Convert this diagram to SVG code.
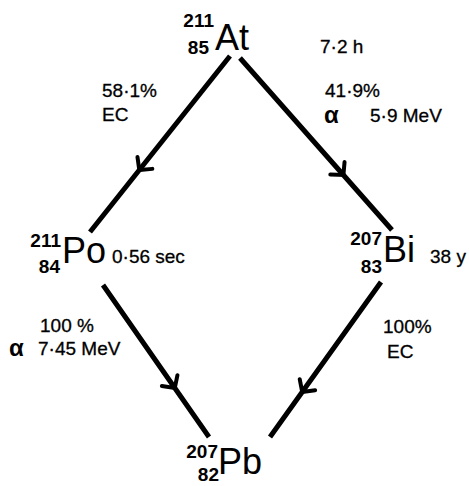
<svg xmlns="http://www.w3.org/2000/svg" width="469" height="486" viewBox="0 0 469 486">
<defs>
<marker id="arr" markerUnits="userSpaceOnUse" viewBox="-15 -15 30 30" markerWidth="30" markerHeight="30" refX="0" refY="0" orient="auto">
<path d="M-9,-9.5 L0,0 L-9,9.5" fill="none" stroke="#000" stroke-width="4" stroke-linecap="round" stroke-linejoin="miter"/>
</marker>
<style>
text{font-family:"Liberation Sans",Arial,sans-serif;fill:#000}
.el{font-size:36px}
.num{font-size:19px;font-weight:bold}
.lab{font-size:19px;stroke:#000;stroke-width:0.3}
.al{font-size:24px;font-weight:bold}
.conn path{fill:none;stroke:#000;stroke-width:5;marker-mid:url(#arr)}
</style>
</defs>
<rect width="469" height="486" fill="#fff"/>
<g id="connectors" class="conn">
<path d="M230,56 L139.3,170 L90,232"/>
<path d="M240,58 L343.4,175 L392,230"/>
<path d="M103,285 L174.8,388 L209,437"/>
<path d="M381,282 L302.2,392 L270,437"/>
</g>
<g id="At">
<text class="num" x="214" y="27" text-anchor="end">211</text>
<text class="num" x="209" y="54" text-anchor="end">85</text>
<text class="el" x="215" y="50">At</text>
<text class="lab" x="320" y="53" font-size="16">7·2 h</text>
</g>
<g id="label-EC1">
<text class="lab" x="102" y="97">58·1%</text>
<text class="lab" x="102" y="121">EC</text>
</g>
<g id="label-alpha1">
<text class="lab" x="325" y="97">41·9%</text>
<text class="al" x="324" y="123">α</text>
<text class="lab" x="370" y="122">5·9 MeV</text>
</g>
<g id="Po">
<text class="num" x="61" y="247" text-anchor="end">211</text>
<text class="num" x="60" y="273" text-anchor="end">84</text>
<text class="el" x="62" y="263" font-size="34">Po</text>
<text class="lab" x="112" y="263">0·56 sec</text>
</g>
<g id="Bi">
<text class="num" x="382" y="245" text-anchor="end">207</text>
<text class="num" x="382" y="273" text-anchor="end">83</text>
<text class="el" x="383" y="262">Bi</text>
<text class="lab" x="430" y="263">38 y</text>
</g>
<g id="label-alpha2">
<text class="lab" x="40" y="332">100 %</text>
<text class="al" x="9" y="356">α</text>
<text class="lab" x="38" y="355">7·45 MeV</text>
</g>
<g id="label-EC2">
<text class="lab" x="383" y="333">100%</text>
<text class="lab" x="387" y="358">EC</text>
</g>
<g id="Pb">
<text class="num" x="218" y="458" text-anchor="end">207</text>
<text class="num" x="219" y="481" text-anchor="end" font-size="17">82</text>
<text class="el" x="218" y="474">Pb</text>
</g>
</svg>
